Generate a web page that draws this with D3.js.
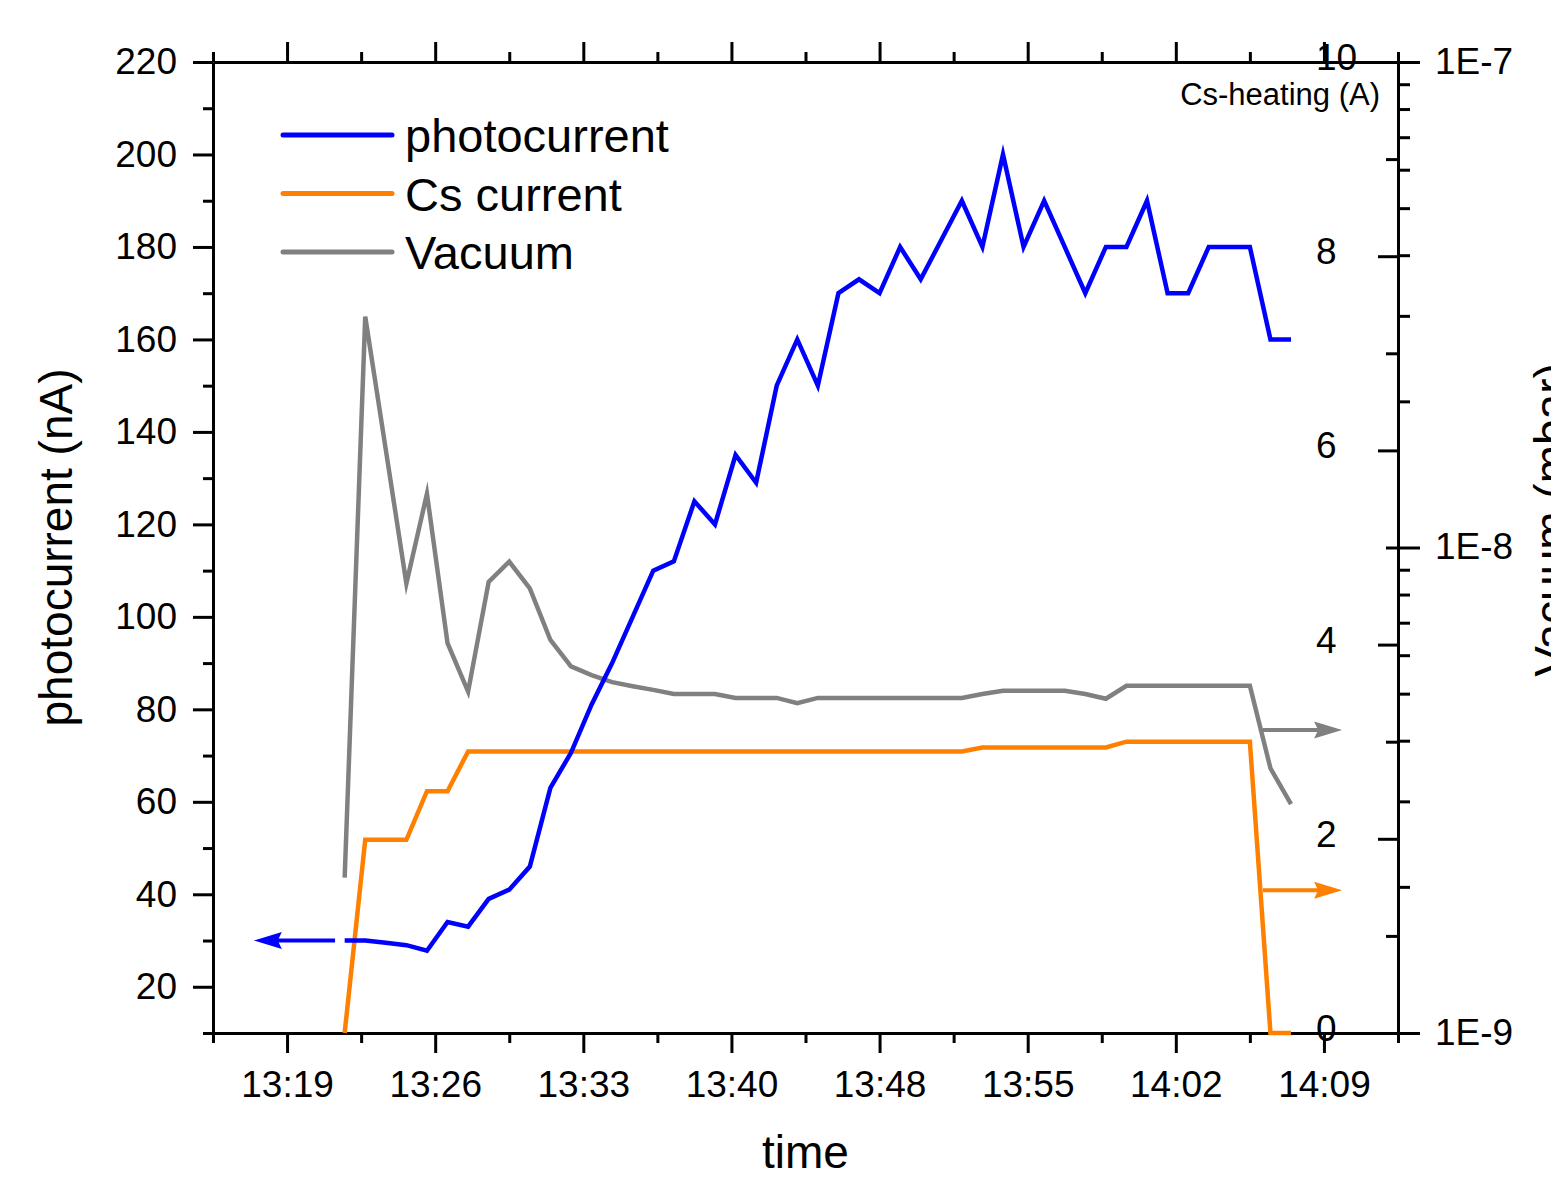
<!DOCTYPE html>
<html>
<head>
<meta charset="utf-8">
<script src="https://cdn.jsdelivr.net/npm/d3@7"></script>
<style>
  body { margin: 0; background: #fff; }
  svg { display: block; background: #fff; }
  text { font-family: "Liberation Sans", Arial, sans-serif; fill: #000; }
</style>
</head>
<body>
<svg id="chart" width="1551" height="1179"></svg>
<script>
// ---------------- DATA ----------------
const times = ["13:22","13:23","13:24","13:25","13:26","13:27","13:28","13:29","13:30","13:31",
  "13:32","13:33","13:34","13:35","13:36","13:37","13:38","13:39","13:40","13:41",
  "13:42","13:43","13:44","13:45","13:46","13:47","13:48","13:49","13:50","13:51",
  "13:52","13:53","13:54","13:55","13:56","13:57","13:58","13:59","14:00","14:01",
  "14:02","14:03","14:04","14:05","14:06","14:07","14:08"];

const photocurrent = [30,30,29.5,29,27.8,34,33,39,41,46,
  63,70.6,81,90,100,110,112,125,120,135,
  129,150,160,150,170,173,170,180,173,181.5,
  190,180,200,180,190,180,170,180,180,190,
  170,170,180,180,180,160,160];

const csCurrent = [0,1.99,1.99,1.99,2.49,2.49,2.9,2.9,2.9,2.9,
  2.9,2.9,2.9,2.9,2.9,2.9,2.9,2.9,2.9,2.9,
  2.9,2.9,2.9,2.9,2.9,2.9,2.9,2.9,2.9,2.9,
  2.9,2.94,2.94,2.94,2.94,2.94,2.94,2.94,3.0,3.0,
  3.0,3.0,3.0,3.0,3.0,0,0];

const vacuum = [2.09e-9,2.99e-8,1.59e-8,8.43e-9,1.29e-8,6.35e-9,5.05e-9,8.5e-9,9.35e-9,8.24e-9,
  6.45e-9,5.69e-9,5.46e-9,5.28e-9,5.18e-9,5.09e-9,4.99e-9,4.99e-9,4.99e-9,4.9e-9,
  4.9e-9,4.9e-9,4.78e-9,4.9e-9,4.9e-9,4.9e-9,4.9e-9,4.9e-9,4.9e-9,4.9e-9,
  4.9e-9,4.99e-9,5.07e-9,5.07e-9,5.07e-9,5.07e-9,4.99e-9,4.88e-9,5.19e-9,5.19e-9,
  5.19e-9,5.19e-9,5.19e-9,5.19e-9,5.19e-9,3.51e-9,2.96e-9];

const timeDomain = ["13:15:36", "14:13:12"];
const timeTicks = ["13:19:12","13:26:24","13:33:36","13:40:48","13:48:00","13:55:12","14:02:24","14:09:36"];
const timeTickLabels = ["13:19","13:26","13:33","13:40","13:48","13:55","14:02","14:09"];
const timeMinorTicks = ["13:15:36","13:22:48","13:30:00","13:37:12","13:44:24","13:51:36","13:58:48","14:06:00","14:13:12"];

const photoDomain = [10, 220];
const photoTicks = [20,40,60,80,100,120,140,160,180,200,220];
const photoMinorTicks = [10,30,50,70,90,110,130,150,170,190,210];

const csDomain = [0, 10];
const csTicks = [0,2,4,6,8,10];
const csMinorTicks = [1,3,5,7,9];

const vacDomain = [1e-9, 1e-7];
const vacTicks = [1e-9, 1e-8, 1e-7];
const vacTickLabels = ["1E-9", "1E-8", "1E-7"];
const vacMinorTicks = [2e-9,3e-9,4e-9,5e-9,6e-9,7e-9,8e-9,9e-9,2e-8,3e-8,4e-8,5e-8,6e-8,7e-8,8e-8,9e-8];

const seriesNames = ["photocurrent", "Cs current", "Vacuum"];
const seriesColors = ["#0000ff", "#ff8000", "#808080"];

// annotation arrows (which axis each series belongs to)
const arrowFrom = ["13:21:32", "14:06:38", "14:06:38"];
const arrowTo = ["13:17:35", "14:10:29", "14:10:29"];
const arrowLevel = [30, 1.47, 4.21e-9];

// ---------------- LAYOUT ----------------
const L = 213, R = 1398, T = 62, B = 1033;
const toMin = s => { const p = s.split(":").map(Number); return p[0]*60 + p[1] + (p[2]||0)/60; };

const svg = d3.select("#chart");
const x = d3.scaleLinear().domain(timeDomain.map(toMin)).range([L, R]);
const yP = d3.scaleLinear().domain(photoDomain).range([B, T]);
const yC = d3.scaleLinear().domain(csDomain).range([B, T]);
const yV = d3.scaleLog().domain(vacDomain).range([B, T]);

const tickFont = 37, titleFont = 46;

function styleAxis(g, sw) {
  g.selectAll("path.domain").attr("stroke", "#000").attr("stroke-width", sw);
  g.selectAll(".tick line").attr("stroke", "#000").attr("stroke-width", 3);
  g.selectAll(".tick text").attr("font-size", tickFont).attr("fill", "#000")
    .attr("font-family", '"Liberation Sans", Arial, sans-serif');
}

// Bottom axis
const gB = svg.append("g").attr("transform", `translate(0,${B})`)
  .call(d3.axisBottom(x).tickValues(timeTicks.map(toMin)).tickSize(20).tickSizeOuter(0).tickPadding(18)
    .tickFormat((d, i) => timeTickLabels[i]));
styleAxis(gB, 3);
const gBm = svg.append("g").attr("transform", `translate(0,${B})`)
  .call(d3.axisBottom(x).tickValues(timeMinorTicks.map(toMin)).tickSize(10).tickFormat(""));
gBm.select("path.domain").remove(); styleAxis(gBm, 3);

// Top axis
const gT = svg.append("g").attr("transform", `translate(0,${T})`)
  .call(d3.axisTop(x).tickValues(timeTicks.map(toMin)).tickSize(20).tickSizeOuter(0).tickFormat(""));
styleAxis(gT, 3);
const gTm = svg.append("g").attr("transform", `translate(0,${T})`)
  .call(d3.axisTop(x).tickValues(timeMinorTicks.map(toMin)).tickSize(10).tickFormat(""));
gTm.select("path.domain").remove(); styleAxis(gTm, 3);

// Left axis
const gL = svg.append("g").attr("transform", `translate(${L},0)`)
  .call(d3.axisLeft(yP).tickValues(photoTicks).tickSize(20).tickSizeOuter(0).tickPadding(16).tickFormat(d3.format("d")));
styleAxis(gL, 3);
const gLm = svg.append("g").attr("transform", `translate(${L},0)`)
  .call(d3.axisLeft(yP).tickValues(photoMinorTicks).tickSize(10).tickFormat(""));
gLm.select("path.domain").remove(); styleAxis(gLm, 3);

// Right: Cs-heating axis (ticks inward, labels inside)
const gC = svg.append("g").attr("transform", `translate(${R},0)`)
  .call(d3.axisLeft(yC).tickValues(csTicks).tickSize(20).tickSizeOuter(0).tickFormat(d3.format("d")));
styleAxis(gC, 3);
gC.selectAll(".tick text").attr("text-anchor", "start").attr("x", -82).attr("dy", "0.2em");
const gCm = svg.append("g").attr("transform", `translate(${R},0)`)
  .call(d3.axisLeft(yC).tickValues(csMinorTicks).tickSize(12).tickFormat(""));
gCm.select("path.domain").remove(); styleAxis(gCm, 3);

// Right: Vacuum log axis (ticks outward)
const gV = svg.append("g").attr("transform", `translate(${R},0)`)
  .call(d3.axisRight(yV).tickValues(vacTicks).tickSize(22).tickSizeOuter(0).tickPadding(15)
    .tickFormat((d, i) => vacTickLabels[i]));
styleAxis(gV, 3);
gV.selectAll(".tick text").attr("dy", "0.3em");
const gVm = svg.append("g").attr("transform", `translate(${R},0)`)
  .call(d3.axisRight(yV).tickValues(vacMinorTicks).tickSize(12).tickFormat(""));
gVm.select("path.domain").remove(); styleAxis(gVm, 3);

// Axis titles
svg.append("text").attr("transform", `translate(72,${(T+B)/2})rotate(-90)`)
  .attr("text-anchor", "middle").attr("font-size", titleFont).text("photocurrent (nA)");
svg.append("text").attr("transform", `translate(1567,520)rotate(-90)`)
  .attr("text-anchor", "middle").attr("font-size", titleFont).text("Vacuum (mbar)");
svg.append("text").attr("x", (L+R)/2).attr("y", 1168)
  .attr("text-anchor", "middle").attr("font-size", 46).text("time");
svg.append("text").attr("x", 1380).attr("y", 105)
  .attr("text-anchor", "end").attr("font-size", 31).text("Cs-heating (A)");

// ---------------- SERIES ----------------
const tMin = times.map(toMin);
const scalesY = [yP, yC, yV];
const seriesData = [photocurrent, csCurrent, vacuum];

[2, 1, 0].forEach(k => {
  const pts = tMin.map((t, i) => [x(t), scalesY[k](seriesData[k][i])]);
  svg.append("path")
    .attr("d", d3.line()(pts))
    .attr("fill", "none")
    .attr("stroke", seriesColors[k])
    .attr("stroke-width", 4.5)
    .attr("stroke-linejoin", "miter")
    .attr("stroke-miterlimit", 6);
});

// Annotation arrows
[0, 2, 1].forEach(k => {
  const x0 = x(toMin(arrowFrom[k])), x1 = x(toMin(arrowTo[k]));
  const y0 = scalesY[k](arrowLevel[k]);
  const dir = Math.sign(x1 - x0);
  const headL = 28, headW = 8.5, notch = 4;
  svg.append("line").attr("x1", x0).attr("y1", y0).attr("x2", x1 - dir*headL*0.6).attr("y2", y0)
    .attr("stroke", seriesColors[k]).attr("stroke-width", 4);
  const p = [[x1, y0], [x1 - dir*headL, y0 - headW], [x1 - dir*(headL - notch), y0], [x1 - dir*headL, y0 + headW]];
  svg.append("path").attr("d", "M" + p.map(q => q.join(",")).join("L") + "Z")
    .attr("fill", seriesColors[k]).attr("stroke", "none");
});

// ---------------- LEGEND ----------------
const legend = svg.append("g");
seriesNames.forEach((name, i) => {
  const yy = 135 + i * 58.5;
  legend.append("line").attr("x1", 283).attr("x2", 392).attr("y1", yy).attr("y2", yy)
    .attr("stroke", seriesColors[i]).attr("stroke-width", 5).attr("stroke-linecap", "round");
  legend.append("text").attr("x", 405).attr("y", yy + 17).attr("font-size", 47).text(name);
});
</script>
</body>
</html>
